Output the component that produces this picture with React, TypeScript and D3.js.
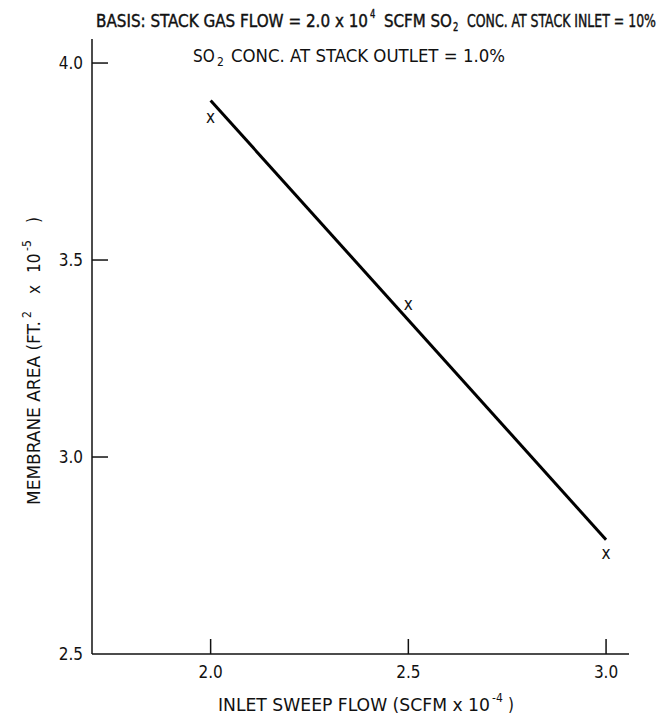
import React from "react";
import * as d3 from "d3";

const sweepFlow = [2.0, 2.5, 3.0];
const membraneArea = [3.86, 3.385, 2.755];
const fitX = [2.0, 3.0];
const fitY = [3.905, 2.79];
const xTicks = [2.0, 2.5, 3.0];
const yTicks = [2.5, 3.0, 3.5, 4.0];

const FONT = "'DejaVu Sans Condensed', 'Liberation Sans Narrow', 'Arial Narrow', sans-serif";
const SX = 0.78;

export default function App() {
  const x = d3.scaleLinear().domain([1.7, 3.058]).range([92, 629]);
  const y = d3.scaleLinear().domain([2.5, 4.061]).range([654, 39]);
  const line = d3
    .line<number>()
    .x((_, i) => x(fitX[i]))
    .y((d) => y(d));
  const [x0, x1] = x.range();
  const [y0, y1] = y.range();
  return (
    <svg width={664} height={718} style={{ position: "absolute", left: 0, top: 0, background: "#fff" }} fontFamily={FONT} fill="#111">
      {/* titles */}
      <g fontSize={17} stroke="#111" strokeWidth={0.4} transform={`scale(${SX},1)`}>
        <text x={96 / SX} y={27} textLength={272 / SX} lengthAdjust="spacingAndGlyphs">BASIS: STACK GAS FLOW = 2.0 x 10</text>
        <text x={370 / SX} y={18} fontSize={12}>4</text>
        <text x={384 / SX} y={27} textLength={68 / SX} lengthAdjust="spacingAndGlyphs">SCFM SO</text>
        <text x={453 / SX} y={31} fontSize={12}>2</text>
        <text x={467 / SX} y={27} textLength={189 / SX} lengthAdjust="spacingAndGlyphs">CONC. AT STACK INLET = 10%</text>
      </g>
      <g fontSize={17}>
        <text x={193} y={62}>SO</text>
        <text x={217} y={66} fontSize={12}>2</text>
        <text x={231} y={62} textLength={274} lengthAdjust="spacingAndGlyphs">CONC. AT STACK OUTLET = 1.0%</text>
      </g>

      {/* axes */}
      <line x1={x0} x2={x0} y1={y0} y2={y1} stroke="#111" strokeWidth={1.5} />
      <line x1={x0} x2={x1} y1={y0} y2={y0} stroke="#111" strokeWidth={1.5} />
      {yTicks.map((t) => (
        <g key={"y" + t}>
          {t !== 2.5 && <line x1={x0} x2={x0 + 16} y1={y(t)} y2={y(t)} stroke="#111" strokeWidth={1.5} />}
          <text x={83} y={y(t) + 6} fontSize={17} textAnchor="end">
            {t.toFixed(1)}
          </text>
        </g>
      ))}
      {xTicks.map((t) => (
        <g key={"x" + t}>
          <line x1={x(t)} x2={x(t)} y1={y0} y2={y0 - 15} stroke="#111" strokeWidth={1.5} />
          <text x={x(t)} y={678} fontSize={17} textAnchor="middle">
            {t.toFixed(1)}
          </text>
        </g>
      ))}

      {/* axis titles */}
      <text x={218} y={711} fontSize={17} textLength={272} lengthAdjust="spacingAndGlyphs">INLET SWEEP FLOW (SCFM x 10</text>
      <text x={492} y={702} fontSize={12}>-4</text>
      <text x={508} y={711} fontSize={17}>)</text>

      <g transform="translate(40,505) rotate(-90)" fontSize={17}>
        <text x={0} y={0} textLength={184} lengthAdjust="spacingAndGlyphs">MEMBRANE AREA (FT.</text>
        <text x={187} y={-9} fontSize={12}>2</text>
        <text x={211} y={0}>x</text>
        <text x={232} y={0}>10</text>
        <text x={254} y={-9} fontSize={12}>-5</text>
        <text x={282} y={0}>)</text>
      </g>

      {/* fitted line */}
      <path d={line(fitY) || ""} fill="none" stroke="#000" strokeWidth={3} />

      {/* data points */}
      {sweepFlow.map((v, i) => (
        <text key={"p" + i} x={x(v)} y={y(membraneArea[i]) + 5} fontSize={17} textAnchor="middle">
          x
        </text>
      ))}
    </svg>
  );
}
